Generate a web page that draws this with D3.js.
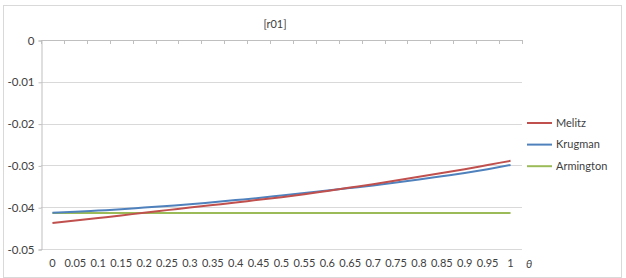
<!DOCTYPE html>
<html>
<head>
<meta charset="utf-8">
<script src="https://cdn.jsdelivr.net/npm/d3@7"></script>
<style>
  body { margin: 0; background: #fff; }
  svg text { font-family: Lato, "Open Sans", sans-serif; fill: #404040; }
</style>
</head>
<body>
<svg id="chart" width="626" height="278"></svg>
<script>
// theta categories along the x axis
var thetas = ["0", "0.05", "0.1", "0.15", "0.2", "0.25", "0.3", "0.35", "0.4", "0.45", "0.5",
  "0.55", "0.6", "0.65", "0.7", "0.75", "0.8", "0.85", "0.9", "0.95", "1"];

// series
var melitz = [-0.0438, -0.0432, -0.0426, -0.0420, -0.0413, -0.0407, -0.0401, -0.0395, -0.0389, -0.0382,
  -0.0376, -0.0369, -0.0361, -0.0353, -0.0345, -0.0336, -0.0327, -0.0318, -0.0309, -0.0299, -0.0289];
var krugman = [-0.0413, -0.0411, -0.0408, -0.0405, -0.0401, -0.0397, -0.0393, -0.0388, -0.0383, -0.0378,
  -0.0372, -0.0366, -0.0360, -0.0354, -0.0348, -0.0341, -0.0334, -0.0326, -0.0318, -0.0309, -0.0299];
var armington = [-0.0414, -0.0414, -0.0414, -0.0414, -0.0414, -0.0414, -0.0414, -0.0414, -0.0414, -0.0414,
  -0.0414, -0.0414, -0.0414, -0.0414, -0.0414, -0.0414, -0.0414, -0.0414, -0.0414, -0.0414, -0.0414];

var yTicks = [0, -0.01, -0.02, -0.03, -0.04, -0.05];

var series = [
  {name: "Melitz", values: melitz, color: "#c0504d"},
  {name: "Krugman", values: krugman, color: "#4f81bd"},
  {name: "Armington", values: armington, color: "#9bbb59"}
];

var svg = d3.select("#chart");

// outer chart frame
svg.append("rect")
  .attr("x", 3.5).attr("y", 5.5)
  .attr("width", 618).attr("height", 272)
  .attr("fill", "none").attr("stroke", "#d9d9d9");

var plotLeft = 41, plotRight = 522, plotTop = 40, plotBottom = 249;

var x = d3.scaleBand().domain(thetas).range([plotLeft, plotRight]).padding(0);
var y = d3.scaleLinear().domain([-0.05, 0]).range([plotBottom, plotTop]);

// gridlines
svg.append("g")
  .selectAll("line")
  .data(yTicks.filter(d => d != 0))
  .enter()
  .append("line")
    .attr("x1", plotLeft).attr("x2", plotRight)
    .attr("y1", d => Math.round(y(d)) + 0.5)
    .attr("y2", d => Math.round(y(d)) + 0.5)
    .attr("stroke", "#d9d9d9");

// y axis
var yAxis = svg.append("g")
  .attr("transform", "translate(" + (plotLeft + 0.5) + ",0.5)")
  .call(d3.axisLeft(y).tickValues(yTicks).tickSize(3).tickPadding(4)
    .tickFormat(d => d == 0 ? "0" : "-" + d3.format(".2f")(-d)));
yAxis.select(".domain").attr("stroke", "#bfbfbf");
yAxis.selectAll(".tick line").attr("stroke", "#bfbfbf");
yAxis.selectAll("text").style("font-size", "11.5px").attr("fill", "#404040");

// category axis crossing at zero (top), ticks between categories
var xTop = svg.append("g");
xTop.append("line")
  .attr("x1", plotLeft).attr("x2", plotRight)
  .attr("y1", plotTop + 0.5).attr("y2", plotTop + 0.5)
  .attr("stroke", "#bfbfbf");
xTop.selectAll(".cat-tick")
  .data(thetas.map(t => x(t)).concat([plotRight]))
  .enter()
  .append("line")
    .attr("class", "cat-tick")
    .attr("x1", d => Math.round(d) + 0.5).attr("x2", d => Math.round(d) + 0.5)
    .attr("y1", plotTop).attr("y2", plotTop + 4)
    .attr("stroke", "#bfbfbf");

// category labels at the bottom
var xAxis = svg.append("g")
  .attr("transform", "translate(0," + plotBottom + ")")
  .call(d3.axisBottom(x).tickSize(0).tickPadding(10));
xAxis.select(".domain").remove();
xAxis.selectAll("text").style("font-size", "11px").attr("fill", "#404040");

svg.append("text")
  .attr("x", 529).attr("y", 268)
  .attr("text-anchor", "middle")
  .style("font-size", "11px").style("font-style", "italic")
  .text("θ");

// title
svg.append("text")
  .attr("x", 275).attr("y", 28)
  .attr("text-anchor", "middle")
  .style("font-size", "11px")
  .text("[r01]");

// lines
var line = d3.line()
  .x((d, i) => x(thetas[i]) + x.bandwidth() / 2)
  .y(d => y(d))
  .curve(d3.curveMonotoneX);

svg.append("g")
  .selectAll("path")
  .data(series.slice().reverse())
  .enter()
  .append("path")
    .attr("d", d => line(d.values))
    .attr("fill", "none")
    .attr("stroke", d => d.color)
    .attr("stroke-width", 2);

// legend
var legend = svg.append("g")
  .selectAll("g")
  .data(series)
  .enter()
  .append("g")
    .attr("transform", (d, i) => "translate(527," + (123 + i * 21.6) + ")");
legend.append("line")
  .attr("x1", 0).attr("x2", 25)
  .attr("stroke", d => d.color).attr("stroke-width", 2);
legend.append("text")
  .attr("x", 29).attr("dy", "0.35em")
  .style("font-size", "11px")
  .text(d => d.name);
</script>
</body>
</html>
